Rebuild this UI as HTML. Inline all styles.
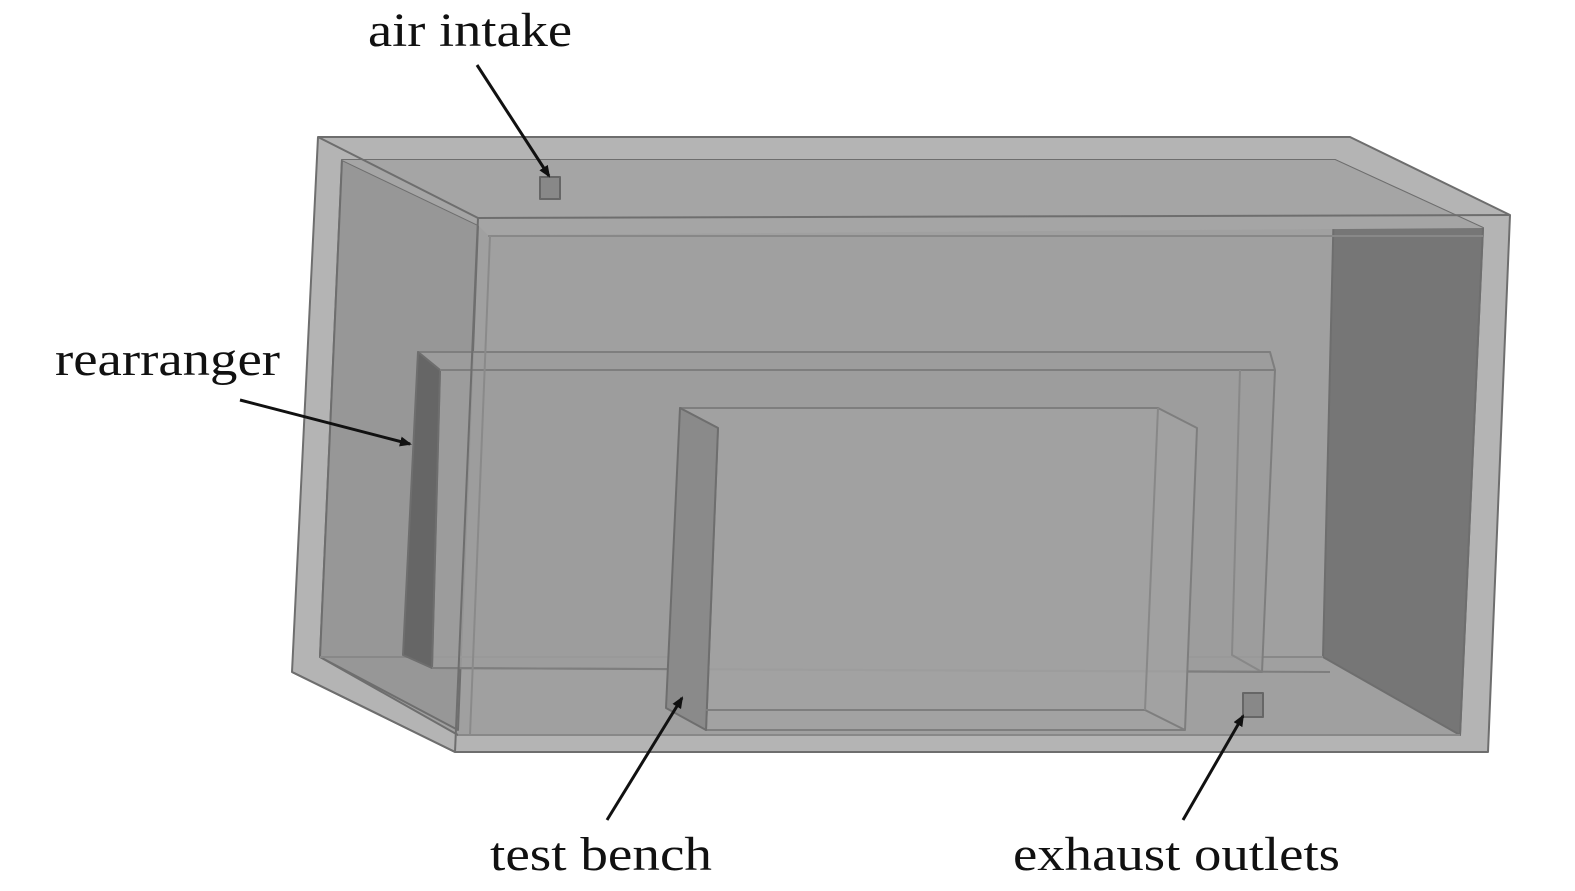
<!DOCTYPE html>
<html><head><style>
body{margin:0;background:#fff;width:1575px;height:891px;overflow:hidden}
svg{display:block}
text{font-family:"Liberation Serif",serif;font-size:48px;fill:#111}
</style></head><body>
<svg width="1575" height="891" viewBox="0 0 1575 891">
<defs><marker id="a" markerWidth="12" markerHeight="10" refX="10" refY="5" orient="auto" markerUnits="userSpaceOnUse"><path d="M0,0 L12,5 L0,10 z" fill="#111"/></marker></defs>
<g stroke="#6e6e6e" stroke-width="2" stroke-linejoin="round">
<polygon points="318,137 1350,137 1510,215 1488,752 455,752 292,672" fill="#b4b4b4"/>
<polygon points="342,160 1335,160 1483,228 1460,735 458,735 320,657" fill="#a0a0a0"/>
<polygon points="342,160 478,225 458,730 320,657" fill="#979797"/>
<polygon points="1335,160 1483,228 1460,735 1323,657" fill="#767676"/>
<polygon points="342,160 1335,160 1483,228 488,235 478,225" fill="#a5a5a5" stroke="none"/>
<line x1="478" y1="218" x2="1510" y2="215"/>
<line x1="488" y1="236" x2="1483" y2="236" stroke="#888"/>
<line x1="320" y1="657" x2="1323" y2="657" stroke="#888"/>
<!-- rearranger -->
<polygon points="418,352 1270,352 1275,370 1262,672 432,668 440,370" fill="#9c9c9c" fill-opacity="0.85" stroke="#7e7e7e"/>
<polygon points="418,352 440,370 432,668 403,655" fill="#666"/>
<line x1="440" y1="370" x2="1275" y2="370" stroke="#7e7e7e"/>
<polyline points="1262,672 1232,655 1240,370" fill="none" stroke="#888"/>
<line x1="432" y1="668" x2="1330" y2="672" stroke="#7e7e7e"/>
<!-- test bench -->
<polygon points="680,408 1158,408 1197,428 1185,730 706,730 718,428" fill="#a2a2a2" fill-opacity="0.85" stroke="#7e7e7e"/>
<polygon points="680,408 718,428 706,730 666,708" fill="#8a8a8a"/>
<polyline points="1185,730 1145,710 706,710" fill="none" stroke="#7e7e7e"/>
<line x1="1158" y1="408" x2="1145" y2="710" stroke="#888"/>
<!-- frame edges on top -->
<line x1="478" y1="218" x2="455" y2="752"/>
<line x1="490" y1="236" x2="470" y2="735" stroke="#8a8a8a"/>
<line x1="318" y1="137" x2="478" y2="218"/>
<line x1="292" y1="672" x2="455" y2="752"/>
<line x1="458" y1="735" x2="1460" y2="735" stroke="#888"/>
<rect x="540" y="177" width="20" height="22" fill="#888" stroke="#666"/>
<rect x="1243" y="693" width="20" height="24" fill="#888" stroke="#666"/>
</g>
<g stroke="#111" stroke-width="3" marker-end="url(#a)">
<line x1="477" y1="65" x2="549" y2="176"/>
<line x1="240" y1="400" x2="410" y2="444"/>
<line x1="607" y1="820" x2="682" y2="698"/>
<line x1="1183" y1="820" x2="1243" y2="716"/>
</g>
<text x="368" y="46" textLength="204" lengthAdjust="spacingAndGlyphs">air intake</text>
<text x="55" y="375" textLength="225" lengthAdjust="spacingAndGlyphs">rearranger</text>
<text x="490" y="870" textLength="222" lengthAdjust="spacingAndGlyphs">test bench</text>
<text x="1013" y="870" textLength="327" lengthAdjust="spacingAndGlyphs">exhaust outlets</text>
</svg>
</body></html>
